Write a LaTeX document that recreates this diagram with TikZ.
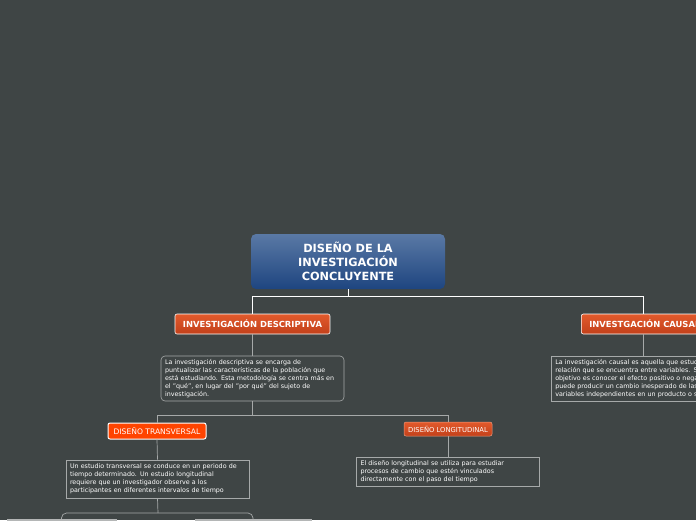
\documentclass[tikz,border=0pt]{standalone}
\usepackage{fontspec}
\setmainfont{DejaVu Sans}
\definecolor{bg}{HTML}{3F4545}
\definecolor{rootTop}{HTML}{5A79A5}
\definecolor{rootBot}{HTML}{1E4580}
\definecolor{topicTop}{HTML}{E25A2C}
\definecolor{topicBot}{HTML}{C2401A}
\definecolor{subRed}{HTML}{FF4400}
\definecolor{lineGray}{HTML}{A6A9A9}
\definecolor{leafGray}{HTML}{B4B6B6}
\begin{document}
\begin{tikzpicture}[x=1pt,y=-1pt,
  every node/.style={font=\fontsize{6.35}{8}\selectfont,text=white,inner sep=0pt},
  root/.style={rounded corners=5pt,top color=rootTop,bottom color=rootBot,
    minimum width=194pt,minimum height=55pt,align=center,
    font=\bfseries\fontsize{11.3}{14}\selectfont},
  topic/.style={draw=white,line width=0.6pt,rounded corners=2pt,
    top color=topicTop,bottom color=topicBot,minimum height=20pt,
    font=\bfseries\fontsize{8.4}{9}\selectfont},
  subtopic/.style={draw=white,line width=1pt,rounded corners=2pt,fill=subRed,
    minimum height=16pt,font=\fontsize{7.6}{8}\selectfont},
  note/.style={draw=lineGray,line width=0.6pt,fill=bg,align=left,
    text width=175pt,inner xsep=4pt,minimum width=183pt},
  leaf/.style={draw=leafGray,fill=leafGray,minimum height=30pt},
  link/.style={draw=lineGray,line width=0.7pt}]
\useasboundingbox (0,0) rectangle (696,520);
\clip (0,0) rectangle (696,520);
\fill[bg] (0,0) rectangle (696,520);

% main topic
\node[root] (con) at (348,261.5) {DISEÑO DE LA\\INVESTIGACIÓN\\CONCLUYENTE};
\node[topic,minimum width=155pt] (desc) at (252.5,324) {INVESTIGACIÓN DESCRIPTIVA};
\node[topic,anchor=west,inner xsep=8pt] (cau) at (581,324) {INVESTGACIÓN CAUSAL};
\coordinate (cauTop) at (643,314);
\coordinate (bus1) at (348,296);
\draw[white,line width=0.8pt] (con.south) -- (bus1) -| (cauTop);
\draw[white,line width=0.8pt] (bus1) -| (desc.north);

% descriptive branch
\node[note,rounded corners=4pt,minimum height=45pt] (descT) at (252.5,378.5)
  {La investigación descriptiva se encarga de\\
   puntualizar las características de la población que\\
   está estudiando. Esta metodología se centra más en\\
   el "qué", en lugar del "por qué" del sujeto de\\
   investigación.};
\draw[link] (desc.south) -- (descT.north);

% causal branch
\node[note,minimum height=45pt,anchor=west] (cauT) at (551,378.5)
  {La investigación causal es aquella que estudia la\\
   relación que se encuentra entre variables. Su\\
   objetivo es conocer el efecto positivo o negativo que\\
   puede producir un cambio inesperado de las\\
   variables independientes en un producto o servicio.};
\draw[link] (cauTop |- cau.south) -- (cauTop |- cauT.north);

% designs
\node[subtopic,minimum width=98pt] (trans) at (157,431) {DISEÑO TRANSVERSAL};
\node[topic,minimum width=88pt,minimum height=14pt,line width=0.5pt,
  draw=topicTop!60!white,font=\fontsize{6.8}{8}\selectfont] (long) at (448,429) {DISEÑO LONGITUDINAL};
\coordinate (bus2) at (252.5,415);
\draw[link] (descT.south) -- (bus2) -| (trans.north);
\draw[link] (bus2) -| (long.north);

\node[note,minimum height=38pt] (transT) at (157.5,479)
  {Un estudio transversal se conduce en un periodo de\\
   tiempo determinado. Un estudio longitudinal\\
   requiere que un investigador observe a los\\
   participantes en diferentes intervalos de tiempo};
\draw[link] (trans.south) -- (transT.north);

\node[note,minimum height=29pt] (longT) at (448,471.5)
  {El diseño longitudinal se utiliza para estudiar\\
   procesos de cambio que estén vinculados\\
   directamente con el paso del tiempo};
\draw[link] (long.south) -- (longT.north);

% lower level, cut by the frame
\node[leaf,minimum width=109pt,anchor=north] (transA) at (61.5,519) {};
\node[leaf,minimum width=116pt,anchor=north] (transB) at (253,519) {};
\coordinate (bus3) at (158,513);
\draw[link] (transT.south) -- (bus3);
\draw[link,rounded corners=5pt] (transA.north) |- (bus3) -| (transB.north);
\end{tikzpicture}
\end{document}
